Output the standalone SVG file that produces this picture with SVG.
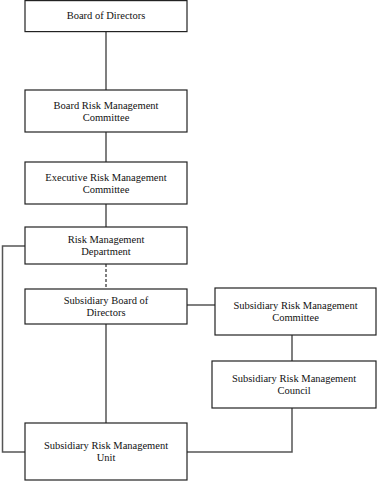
<svg xmlns="http://www.w3.org/2000/svg" width="378" height="481" viewBox="0 0 378 481">
<style>
.box{fill:#fff;stroke:#222;stroke-width:1.2}
.ln{fill:none;stroke:#555;stroke-width:1.5}
.dash{stroke-dasharray:3,2}
.t text{font-size:10.5px;fill:#111;text-anchor:middle}
</style>
<rect width="378" height="481" fill="#fff"/>
<g id="connectors">
<line class="ln" x1="106" y1="31" x2="106" y2="90"/>
<line class="ln" x1="106" y1="132" x2="106" y2="162"/>
<line class="ln" x1="106" y1="204" x2="106" y2="227"/>
<line class="ln dash" x1="106" y1="264" x2="106" y2="289"/>
<polyline class="ln" points="25,246 2.5,246 2.5,452 25,452"/>
<line class="ln" x1="187" y1="305" x2="215" y2="305"/>
<line class="ln" x1="106" y1="324" x2="106" y2="423"/>
<line class="ln" x1="292" y1="335" x2="292" y2="361"/>
<polyline class="ln" points="292,408 292,452 187,452"/>
</g>
<g class="t">
<g id="n1"><rect class="box" x="25" y="0.6" width="162" height="31"/><text font-family="Times New Roman" x="106" y="19">Board of Directors</text></g>
<g id="n2"><rect class="box" x="25" y="90" width="162" height="42"/><text font-family="Times New Roman" x="106" y="109">Board Risk Management</text><text font-family="Times New Roman" x="106" y="121">Committee</text></g>
<g id="n3"><rect class="box" x="25" y="162" width="162" height="42"/><text font-family="Times New Roman" x="106" y="181">Executive Risk Management</text><text font-family="Times New Roman" x="106" y="193">Committee</text></g>
<g id="n4"><rect class="box" x="25" y="227" width="162" height="37"/><text font-family="Times New Roman" x="106" y="243">Risk Management</text><text font-family="Times New Roman" x="106" y="255">Department</text></g>
<g id="n5"><rect class="box" x="25" y="289" width="162" height="35"/><text font-family="Times New Roman" x="106" y="304">Subsidiary Board of</text><text font-family="Times New Roman" x="106" y="316">Directors</text></g>
<g id="n6"><rect class="box" x="215" y="288" width="161" height="47"/><text font-family="Times New Roman" x="295.5" y="309">Subsidiary Risk Management</text><text font-family="Times New Roman" x="295.5" y="321">Committee</text></g>
<g id="n7"><rect class="box" x="212" y="361" width="164" height="47"/><text font-family="Times New Roman" x="294" y="382">Subsidiary Risk Management</text><text font-family="Times New Roman" x="294" y="394">Council</text></g>
<g id="n8"><rect class="box" x="25" y="423" width="162" height="57"/><text font-family="Times New Roman" x="106" y="449">Subsidiary Risk Management</text><text font-family="Times New Roman" x="106" y="461">Unit</text></g>
</g>
</svg>
